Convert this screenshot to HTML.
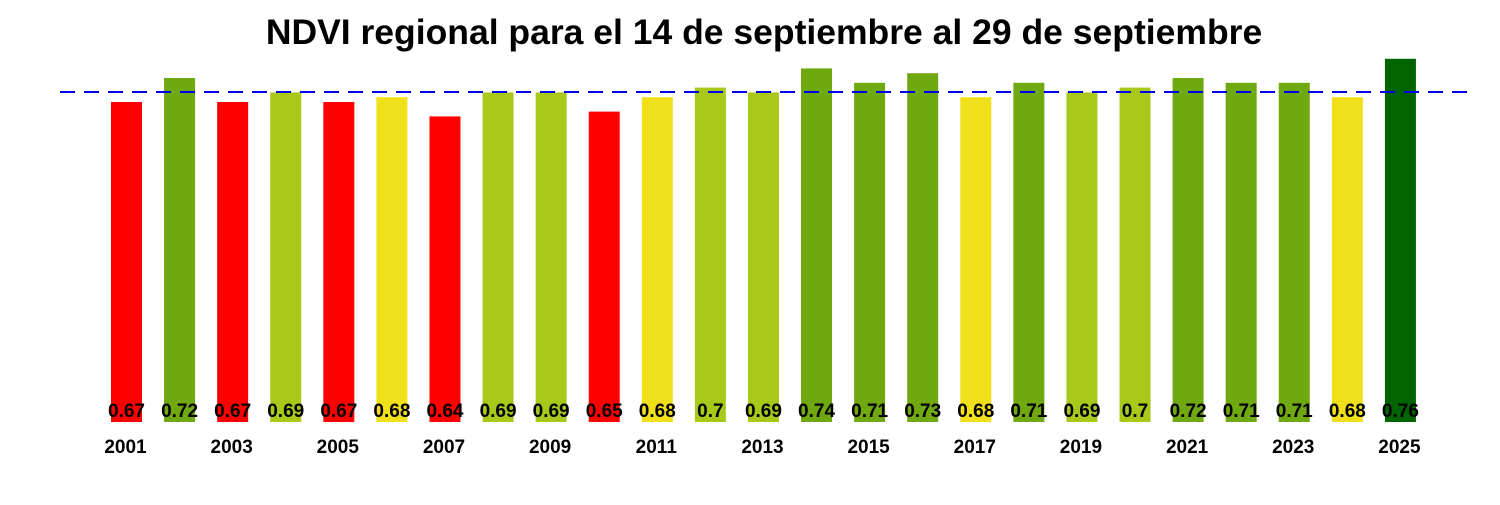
<!DOCTYPE html><html><head><style>body{margin:0;background:#fff}</style></head><body>
<svg width="1500" height="500" xmlns="http://www.w3.org/2000/svg" font-family="Liberation Sans, Arial, sans-serif" font-weight="bold">
<text x="764" y="44" font-size="35.5" text-anchor="middle">NDVI regional para el 14 de septiembre al 29 de septiembre</text>
<rect x="111" y="102" width="31" height="320" fill="#FF0000"/>
<rect x="164.08" y="78" width="31" height="344" fill="#6FA80F"/>
<rect x="217.16" y="102" width="31" height="320" fill="#FF0000"/>
<rect x="270.24" y="92.4" width="31" height="329.6" fill="#A8C81A"/>
<rect x="323.32" y="102" width="31" height="320" fill="#FF0000"/>
<rect x="376.4" y="97.2" width="31" height="324.8" fill="#F0E01A"/>
<rect x="429.48" y="116.4" width="31" height="305.6" fill="#FF0000"/>
<rect x="482.56" y="92.4" width="31" height="329.6" fill="#A8C81A"/>
<rect x="535.64" y="92.4" width="31" height="329.6" fill="#A8C81A"/>
<rect x="588.72" y="111.6" width="31" height="310.4" fill="#FF0000"/>
<rect x="641.8" y="97.2" width="31" height="324.8" fill="#F0E01A"/>
<rect x="694.88" y="87.6" width="31" height="334.4" fill="#A8C81A"/>
<rect x="747.96" y="92.4" width="31" height="329.6" fill="#A8C81A"/>
<rect x="801.04" y="68.4" width="31" height="353.6" fill="#6FA80F"/>
<rect x="854.12" y="82.8" width="31" height="339.2" fill="#6FA80F"/>
<rect x="907.2" y="73.2" width="31" height="348.8" fill="#6FA80F"/>
<rect x="960.28" y="97.2" width="31" height="324.8" fill="#F0E01A"/>
<rect x="1013.36" y="82.8" width="31" height="339.2" fill="#6FA80F"/>
<rect x="1066.44" y="92.4" width="31" height="329.6" fill="#A8C81A"/>
<rect x="1119.52" y="87.6" width="31" height="334.4" fill="#A8C81A"/>
<rect x="1172.6" y="78" width="31" height="344" fill="#6FA80F"/>
<rect x="1225.68" y="82.8" width="31" height="339.2" fill="#6FA80F"/>
<rect x="1278.76" y="82.8" width="31" height="339.2" fill="#6FA80F"/>
<rect x="1331.84" y="97.2" width="31" height="324.8" fill="#F0E01A"/>
<rect x="1384.92" y="58.8" width="31" height="363.2" fill="#006400"/>
<line x1="60" y1="92" x2="1470" y2="92" stroke="#0000EE" stroke-width="2" stroke-dasharray="15,9"/>
<g font-size="19" text-anchor="middle" textLength="37">
<text x="126.5" y="417">0.67</text><text x="179.58" y="417">0.72</text><text x="232.66" y="417">0.67</text><text x="285.74" y="417">0.69</text><text x="338.82" y="417">0.67</text><text x="391.9" y="417">0.68</text><text x="444.98" y="417">0.64</text><text x="498.06" y="417">0.69</text><text x="551.14" y="417">0.69</text><text x="604.22" y="417">0.65</text><text x="657.3" y="417">0.68</text><text x="710.38" y="417">0.7</text><text x="763.46" y="417">0.69</text><text x="816.54" y="417">0.74</text><text x="869.62" y="417">0.71</text><text x="922.7" y="417">0.73</text><text x="975.78" y="417">0.68</text><text x="1028.86" y="417">0.71</text><text x="1081.94" y="417">0.69</text><text x="1135.02" y="417">0.7</text><text x="1188.1" y="417">0.72</text><text x="1241.18" y="417">0.71</text><text x="1294.26" y="417">0.71</text><text x="1347.34" y="417">0.68</text><text x="1400.42" y="417">0.76</text>
</g>
<g font-size="19" text-anchor="middle">
<text x="125.5" y="453">2001</text><text x="231.66" y="453">2003</text><text x="337.82" y="453">2005</text><text x="443.98" y="453">2007</text><text x="550.14" y="453">2009</text><text x="656.3" y="453">2011</text><text x="762.46" y="453">2013</text><text x="868.62" y="453">2015</text><text x="974.78" y="453">2017</text><text x="1080.94" y="453">2019</text><text x="1187.1" y="453">2021</text><text x="1293.26" y="453">2023</text><text x="1399.42" y="453">2025</text>
</g>
</svg></body></html>
